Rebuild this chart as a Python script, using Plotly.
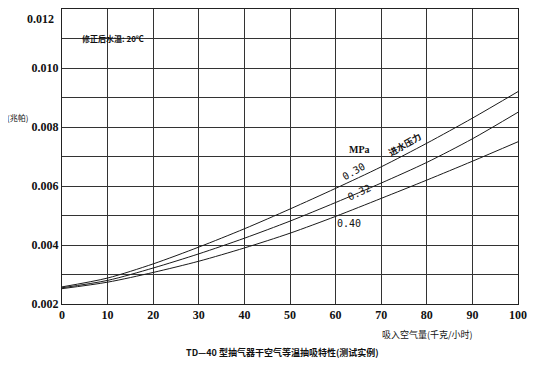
import plotly.graph_objects as go

air_flow = [0, 10, 20, 30, 40, 50, 60, 70, 80, 90, 100]
p_030 = [0.00258, 0.00288, 0.00336, 0.00393, 0.00455, 0.00522, 0.00592, 0.00665, 0.00745, 0.00830, 0.00920]
p_032 = [0.00255, 0.00280, 0.00322, 0.00370, 0.00423, 0.00481, 0.00544, 0.00610, 0.00680, 0.00760, 0.00850]
p_040 = [0.00252, 0.00274, 0.00307, 0.00345, 0.00390, 0.00440, 0.00497, 0.00558, 0.00620, 0.00684, 0.00750]
series = [("0.30", p_030), ("0.32", p_032), ("0.40", p_040)]

x_ticks = [0, 10, 20, 30, 40, 50, 60, 70, 80, 90, 100]
y_ticks = [0.002, 0.004, 0.006, 0.008, 0.010]
y_tick_text = ["0.002", "0.004", "0.006", "0.008", "0.010"]

serif = "Liberation Serif"
cjk = "Noto Sans CJK SC"

fig = go.Figure()
for name, vals in series:
    fig.add_trace(go.Scatter(x=air_flow, y=vals, mode="lines", name=name,
                             line=dict(color="#1a1a1a", width=1, shape="spline", smoothing=0.8),
                             showlegend=False))

# page body has an 8px default margin; compensate so plot area sits at x 62..518, y 9..304
PL, PR, PT, PB = 62, 518, 9, 304
fig.update_layout(
    width=536, height=370,
    margin=dict(l=PL - 8, r=536 - PR + 8, t=PT - 8, b=370 - PB + 8),
    paper_bgcolor="white", plot_bgcolor="white",
    xaxis=dict(range=[0, 100], tickvals=x_ticks, ticktext=[str(v) for v in x_ticks],
               showgrid=True, gridcolor="#333333", gridwidth=1,
               showline=True, linecolor="#222222", linewidth=1, mirror=True,
               ticks="", zeroline=False, automargin=False,
               tickfont=dict(family=serif, size=12, color="#111111", weight="bold")),
    yaxis=dict(range=[0.002, 0.012], tickvals=y_ticks, ticktext=y_tick_text,
               showgrid=True, gridcolor="#333333", gridwidth=1,
               minor=dict(dtick=0.001, tick0=0.002, showgrid=True, gridcolor="#333333", gridwidth=1),
               showline=True, linecolor="#222222", linewidth=1, mirror=True,
               ticks="", zeroline=False, automargin=False,
               tickfont=dict(family=serif, size=12, color="#111111", weight="bold")),
)

def px(x):
    return (x - PL) / (PR - PL)

def py(y):
    return (PB - y) / (PB - PT)

ann = []
def add(text, x, y, size=9, angle=0, family=cjk, xanchor="center", yanchor="middle", bold=False):
    t = f"<b>{text}</b>" if bold else text
    ann.append(dict(text=t, x=px(x), y=py(y), xref="paper", yref="paper", showarrow=False,
                    font=dict(family=family, size=size, color="#111111"),
                    textangle=angle, xanchor=xanchor, yanchor=yanchor))

# 0.012 label sits slightly below the top edge, as in the reference
add("0.012", 56, 19, family=serif, size=12, xanchor="right", bold=True)
add("修正后水温: 20℃", 113, 38, size=8, bold=True)
add("(兆帕)", 17, 117, size=8)
add("MPa", 359, 149, family=serif, size=10, bold=True)
add("进水压力", 405, 145, size=9, angle=-30, bold=True)
add("0.30", 354, 172, family="DejaVu Sans Mono", size=10, angle=-30)
add("0.32", 359, 192, family="DejaVu Sans Mono", size=10, angle=-25)
add("0.40", 349, 223, family="DejaVu Sans Mono", size=10)
add("吸入空气量(千克/小时)", 427, 334, size=9)
add("TD—40 型抽气器干空气等温抽吸特性(测试实例)", 282, 352, size=9, bold=True)
fig.update_layout(annotations=ann)

fig.write_html("out.html")
